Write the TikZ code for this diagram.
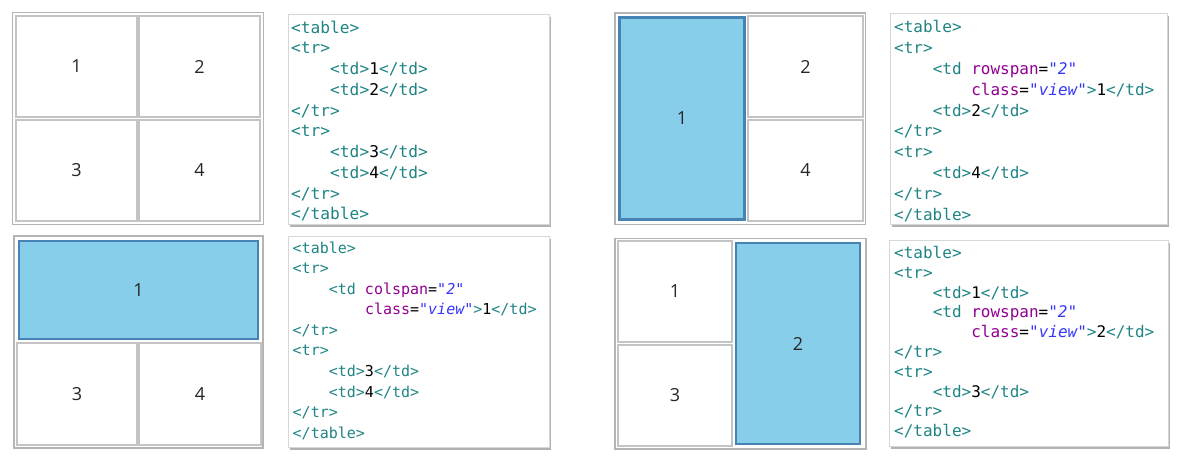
\documentclass[tikz,border=0pt]{standalone}
\usepackage{fontspec}
\setsansfont{Open Sans}
\newfontfamily\codefont{DejaVu Sans Mono}
\usetikzlibrary{shadows}
\definecolor{tablegray}{RGB}{180,180,180}
\definecolor{cellgray}{RGB}{196,196,196}
\definecolor{viewblue}{RGB}{135,206,235}
\definecolor{viewedge}{RGB}{70,130,180}
\definecolor{tagteal}{RGB}{32,132,132}
\definecolor{attrpurple}{RGB}{145,0,145}
\definecolor{valblue}{RGB}{55,55,250}
\definecolor{boxgray}{RGB}{215,215,215}
\tikzstyle{frame}=[draw=tablegray,line width=1.5pt]
\tikzstyle{cell}=[draw=cellgray,line width=1.3pt,inner sep=0pt,text=black!85,font=\sffamily\fontsize{18}{21}\selectfont]
\tikzstyle{viewcell}=[cell,fill=viewblue,draw=viewedge,line width=2.6pt]
\tikzstyle{codebox}=[draw=boxgray,line width=0.8pt,fill=white,anchor=north west,drop shadow={shadow xshift=2pt,shadow yshift=-2.5pt,fill=black,opacity=.3}]
\tikzset{cellsize/.style 2 args={minimum width=#1,minimum height=#2},
  code/.style 2 args={anchor=north west,inner sep=0pt,align=left,font=\codefont\fontsize{#1}{#2}\selectfont}}
\newcommand{\tg}[1]{\textcolor{tagteal}{#1}}
\newcommand{\atr}[1]{\textcolor{attrpurple}{#1}}
\newcommand{\vlu}[1]{\textcolor{valblue}{\itshape #1}}
\newcommand{\codeind}{\hspace*{2.41em}}

\begin{document}
\begin{tikzpicture}[x=1pt,y=-1pt]
  \useasboundingbox (0,0) rectangle (1184,458);

  % plain 2x2 table
  \draw[frame] (12.5,12.5) rectangle (263.5,224.5);
  \node[cell,cellsize={121}{101}] (a1) at (76.5,66.5) {1};
  \node[cell,cellsize={121}{101}] (a2) at (199.5,66.5) {2};
  \node[cell,cellsize={121}{101}] (a3) at (76.5,170.5) {3};
  \node[cell,cellsize={121}{101}] (a4) at (199.5,170.5) {4};
  \node[codebox,minimum width=261,minimum height=210] (codea) at (288,14) {};
  \node[code={16.2}{20.75}] (texta) at (291,20.5) {%
    \tg{<table>}\\
    \tg{<tr>}\\
    \codeind\tg{<td>}1\tg{</td>}\\
    \codeind\tg{<td>}2\tg{</td>}\\
    \tg{</tr>}\\
    \tg{<tr>}\\
    \codeind\tg{<td>}3\tg{</td>}\\
    \codeind\tg{<td>}4\tg{</td>}\\
    \tg{</tr>}\\
    \tg{</table>}};

  % rowspan on the first cell
  \draw[frame] (615,13) rectangle (865.5,224.5);
  \node[viewcell,cellsize={125}{202}] (b1) at (682,118.5) {1};
  \node[cell,cellsize={115}{101}] (b2) at (805.5,66.5) {2};
  \node[cell,cellsize={115}{101}] (b4) at (805.5,170.5) {4};
  \node[codebox,minimum width=277,minimum height=211] (codeb) at (890,13) {};
  \node[code={16}{20.8}] (textb) at (894,20.5) {%
    \tg{<table>}\\
    \tg{<tr>}\\
    \codeind\tg{<td} \atr{rowspan}=\vlu{"2"}\\
    \codeind\codeind\atr{class}=\vlu{"view"}\tg{>}1\tg{</td>}\\
    \codeind\tg{<td>}2\tg{</td>}\\
    \tg{</tr>}\\
    \tg{<tr>}\\
    \codeind\tg{<td>}4\tg{</td>}\\
    \tg{</tr>}\\
    \tg{</table>}};

  % colspan on the first cell
  \draw[frame] (14,236) rectangle (263,448);
  \node[viewcell,cellsize={239}{98}] (c1) at (138.5,290) {1};
  \node[cell,cellsize={120}{102}] (c3) at (77,394) {3};
  \node[cell,cellsize={122}{102}] (c4) at (200,394) {4};
  \node[codebox,minimum width=261,minimum height=211] (codec) at (288,236) {};
  \node[code={15}{20.55}] (textc) at (292.5,241.5) {%
    \tg{<table>}\\
    \tg{<tr>}\\
    \codeind\tg{<td} \atr{colspan}=\vlu{"2"}\\
    \codeind\codeind\atr{class}=\vlu{"view"}\tg{>}1\tg{</td>}\\
    \tg{</tr>}\\
    \tg{<tr>}\\
    \codeind\tg{<td>}3\tg{</td>}\\
    \codeind\tg{<td>}4\tg{</td>}\\
    \tg{</tr>}\\
    \tg{</table>}};

  % rowspan on the second cell
  \draw[frame] (615,238.5) rectangle (866,449);
  \node[cell,cellsize={114}{101}] (d1) at (675,291.5) {1};
  \node[viewcell,cellsize={124}{201}] (d2) at (798,343.5) {2};
  \node[cell,cellsize={114}{101}] (d3) at (675,395.5) {3};
  \node[codebox,minimum width=279,minimum height=206] (coded) at (889,240) {};
  \node[code={16}{19.8}] (textd) at (894,246) {%
    \tg{<table>}\\
    \tg{<tr>}\\
    \codeind\tg{<td>}1\tg{</td>}\\
    \codeind\tg{<td} \atr{rowspan}=\vlu{"2"}\\
    \codeind\codeind\atr{class}=\vlu{"view"}\tg{>}2\tg{</td>}\\
    \tg{</tr>}\\
    \tg{<tr>}\\
    \codeind\tg{<td>}3\tg{</td>}\\
    \tg{</tr>}\\
    \tg{</table>}};
\end{tikzpicture}
\end{document}
